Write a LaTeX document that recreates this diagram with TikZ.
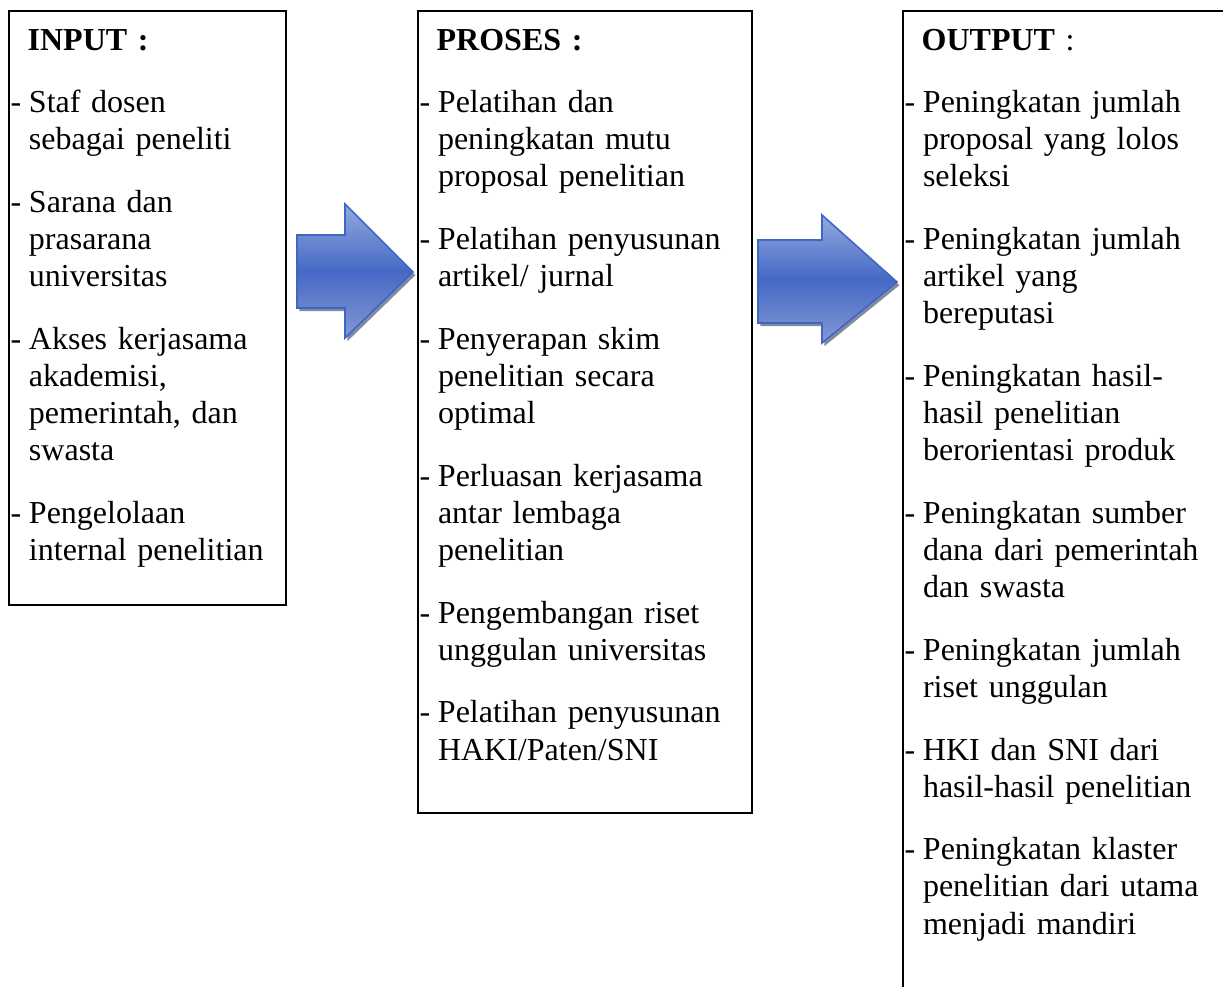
\documentclass[tikz,border=0pt]{standalone}
\usepackage{fontspec}
\setmainfont{Liberation Serif}
\usetikzlibrary{calc}

\definecolor{arrowtop}{HTML}{93AADD}
\definecolor{arrowmid}{HTML}{4569C6}
\definecolor{arrowbot}{HTML}{8499D2}
\definecolor{arrowline}{HTML}{3F66C4}
\definecolor{arrowshade}{HTML}{1C2A55}

% list paragraphs: a heading line and hanging "- " entries
\newcommand\listhead[1]{\noindent\hspace*{7pt}#1\par}
\newcommand\listentry[1]{\hangindent=7.5pt\hangafter=1\noindent\makebox[7.5pt][l]{\hspace*{0.6pt}-}#1\par}

% block arrow: left x, head base x, tip x, shaft top, shaft bottom, head top, head bottom, tip y
\newcommand\flowarrow[8]{%
  \fill[arrowshade, opacity=0.55, xshift=0.9pt, yshift=-1.2pt]
    (#1,#4) -- (#2,#4) -- (#2,#6) -- (#3,#8) -- (#2,#7) -- (#2,#5) -- (#1,#5) -- cycle;
  \path[blockarrow]
    (#1,#4) -- (#2,#4) -- (#2,#6) -- (#3,#8) -- (#2,#7) -- (#2,#5) -- (#1,#5) -- cycle;
}

\begin{document}
\begin{tikzpicture}[x=0.375pt,y=-0.375pt,
  panel/.style={draw=black, line width=0.8pt, inner sep=0pt, outer sep=0pt, anchor=north west},
  listtext/.style={anchor=base west, inner sep=0pt, outer sep=0pt,
    font=\fontsize{12pt}{13.95pt}\selectfont},
  blockarrow/.style={top color=arrowtop, bottom color=arrowbot, middle color=arrowmid,
    draw=arrowline, line width=0.6pt, line join=miter},
]
\useasboundingbox (0,0) rectangle (1223,986);
\clip (0,0) rectangle (1223,986);

% the three panels
\node[panel, minimum width=103.875pt, minimum height=222.75pt] (inbox) at (9,11) {};
\node[panel, minimum width=125.25pt, minimum height=300.75pt] (procbox) at (418,11) {};
\node[panel, minimum width=133.875pt, minimum height=374.625pt] (outbox) at (903,11) {};

% panel contents
\node[listtext, text width=103pt] (inlist) at ($(inbox.north west)+(0,39)$) {%
  \raggedright\setlength{\parskip}{9.5pt}%
  \listhead{\textbf{INPUT :}}
  \listentry{Staf dosen\newline sebagai peneliti}
  \listentry{Sarana dan\newline prasarana\newline universitas}
  \listentry{Akses kerjasama\newline akademisi,\newline pemerintah, dan\newline swasta}
  \listentry{Pengelolaan\newline internal penelitian}};

\node[listtext, text width=125pt] (proclist) at ($(procbox.north west)+(0,39)$) {%
  \raggedright\setlength{\parskip}{9.5pt}%
  \listhead{\textbf{PROSES :}}
  \listentry{Pelatihan dan\newline peningkatan mutu\newline proposal penelitian}
  \listentry{Pelatihan penyusunan\newline artikel/ jurnal}
  \listentry{Penyerapan skim\newline penelitian secara\newline optimal}
  \listentry{Perluasan kerjasama\newline antar lembaga\newline penelitian}
  \listentry{Pengembangan riset\newline unggulan universitas}
  \listentry{Pelatihan penyusunan\newline HAKI/Paten/SNI}};

\node[listtext, text width=125pt] (outlist) at ($(outbox.north west)+(0,39)$) {%
  \raggedright\setlength{\parskip}{9.5pt}%
  \listhead{\textbf{OUTPUT} :}
  \listentry{Peningkatan jumlah\newline proposal yang lolos\newline seleksi}
  \listentry{Peningkatan jumlah\newline artikel yang\newline bereputasi}
  \listentry{Peningkatan hasil-\newline hasil penelitian\newline berorientasi produk}
  \listentry{Peningkatan sumber\newline dana dari pemerintah\newline dan swasta}
  \listentry{Peningkatan jumlah\newline riset unggulan}
  \listentry{HKI dan SNI dari\newline hasil-hasil penelitian}
  \listentry{Peningkatan klaster\newline penelitian dari utama\newline menjadi mandiri}};

% block arrows between the panels
\flowarrow{297}{345}{413}{235}{308}{204}{338}{272}
\flowarrow{758}{822}{897}{240}{323}{215}{343}{282}
\end{tikzpicture}
\end{document}
